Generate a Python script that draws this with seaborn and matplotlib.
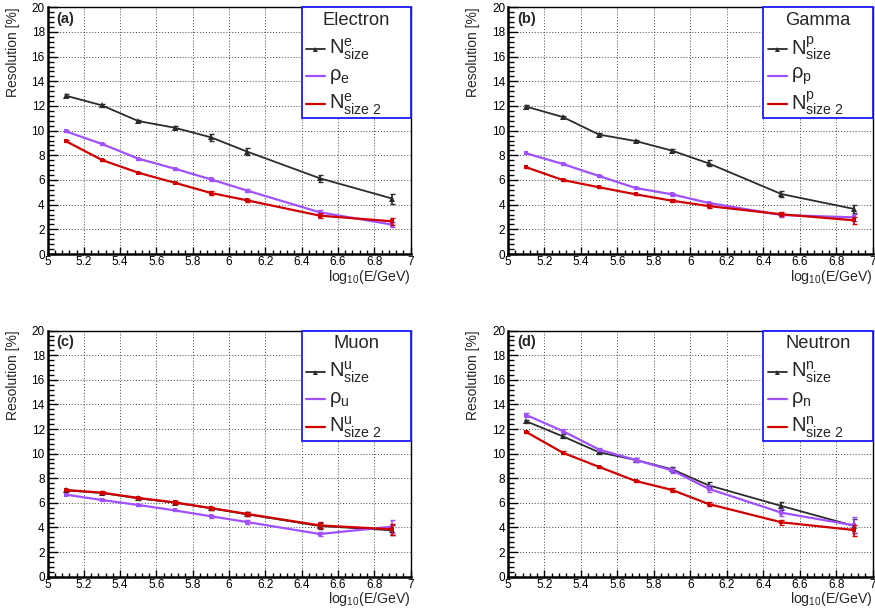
import numpy as np
import pandas as pd
import matplotlib
matplotlib.use("Agg")
import matplotlib.pyplot as plt
from matplotlib.patches import Rectangle
from matplotlib.lines import Line2D
from matplotlib.ticker import MultipleLocator
import seaborn as sns

sns.set_style("ticks")
plt.rcParams['font.family'] = ['Liberation Sans', 'DejaVu Sans']
plt.rcParams['mathtext.fontset'] = 'custom'
plt.rcParams['mathtext.rm'] = 'Liberation Sans'
plt.rcParams['mathtext.it'] = 'Liberation Sans:italic'
plt.rcParams['mathtext.bf'] = 'Liberation Sans:bold'

# ---------------- data ----------------
log_e = [5.1, 5.3, 5.5, 5.7, 5.9, 6.1, 6.5, 6.9]

panel_tags = ["(a)", "(b)", "(c)", "(d)"]
particles = ["Electron", "Gamma", "Muon", "Neutron"]
subs = ["e", "p", "u", "n"]

electron_nsize = [12.84, 12.05, 10.78, 10.24, 9.46, 8.30, 6.14, 4.49]
electron_rho = [9.95, 8.92, 7.73, 6.92, 6.05, 5.14, 3.38, 2.38]
electron_nsize2 = [9.16, 7.62, 6.59, 5.78, 4.95, 4.35, 3.11, 2.65]
electron_nsize_err = [0.10, 0.10, 0.10, 0.10, 0.30, 0.30, 0.30, 0.40]
electron_rho_err = [0.08, 0.08, 0.08, 0.08, 0.10, 0.15, 0.15, 0.20]
electron_nsize2_err = [0.08, 0.05, 0.05, 0.05, 0.15, 0.15, 0.20, 0.30]

gamma_nsize = [11.95, 11.11, 9.68, 9.16, 8.38, 7.35, 4.86, 3.65]
gamma_rho = [8.16, 7.30, 6.32, 5.35, 4.84, 4.14, 3.16, 2.97]
gamma_nsize2 = [7.03, 6.00, 5.41, 4.84, 4.32, 3.89, 3.22, 2.73]
gamma_nsize_err = [0.10, 0.10, 0.10, 0.10, 0.15, 0.25, 0.25, 0.35]
gamma_rho_err = [0.05, 0.05, 0.05, 0.05, 0.10, 0.10, 0.15, 0.30]
gamma_nsize2_err = [0.05, 0.05, 0.05, 0.05, 0.10, 0.12, 0.15, 0.30]

muon_nsize = [7.02, 6.80, 6.37, 6.02, 5.56, 5.07, 4.12, 3.77]
muon_rho = [6.67, 6.23, 5.83, 5.39, 4.91, 4.44, 3.47, 4.07]
muon_nsize2 = [7.05, 6.83, 6.40, 6.04, 5.58, 5.10, 4.17, 3.85]
muon_nsize_err = [0.10, 0.10, 0.10, 0.10, 0.12, 0.15, 0.25, 0.40]
muon_rho_err = [0.05, 0.05, 0.05, 0.05, 0.10, 0.15, 0.20, 0.50]
muon_nsize2_err = [0.10, 0.10, 0.10, 0.10, 0.12, 0.15, 0.25, 0.45]

neutron_nsize = [12.63, 11.41, 10.11, 9.49, 8.73, 7.43, 5.75, 4.12]
neutron_rho = [13.14, 11.84, 10.33, 9.49, 8.64, 7.15, 5.20, 4.17]
neutron_nsize2 = [11.76, 10.08, 8.92, 7.78, 7.05, 5.91, 4.42, 3.79]
neutron_nsize_err = [0.10, 0.15, 0.15, 0.15, 0.20, 0.25, 0.30, 0.60]
neutron_rho_err = [0.15, 0.15, 0.15, 0.15, 0.20, 0.30, 0.30, 0.65]
neutron_nsize2_err = [0.10, 0.10, 0.10, 0.10, 0.15, 0.20, 0.20, 0.45]

values = [
    (electron_nsize, electron_rho, electron_nsize2),
    (gamma_nsize, gamma_rho, gamma_nsize2),
    (muon_nsize, muon_rho, muon_nsize2),
    (neutron_nsize, neutron_rho, neutron_nsize2),
]
errors = [
    (electron_nsize_err, electron_rho_err, electron_nsize2_err),
    (gamma_nsize_err, gamma_rho_err, gamma_nsize2_err),
    (muon_nsize_err, muon_rho_err, muon_nsize2_err),
    (neutron_nsize_err, neutron_rho_err, neutron_nsize2_err),
]

series_names = ["Nsize", "rho", "Nsize2"]
colors = {"Nsize": "#2b2b2b", "rho": "#a050ff", "Nsize2": "#d00000"}
markers = {"Nsize": "^", "rho": "s", "Nsize2": "s"}
msizes = {"Nsize": 4.5, "rho": 2.5, "Nsize2": 2.5}
lwidths = {"Nsize": 1.3, "rho": 1.6, "Nsize2": 1.6}
zorders = {"Nsize": 3, "rho": 3.1, "Nsize2": 3.2}

# ---------------- layout ----------------
W, H = 875, 610
fig = plt.figure(figsize=(W / 100, H / 100), dpi=100)
fig.patch.set_facecolor("white")

positions = [
    [0.0543, 0.5836, 0.4149, 0.4044],
    [0.5806, 0.5836, 0.4166, 0.4044],
    [0.0543, 0.0546, 0.4149, 0.4034],
    [0.5806, 0.0546, 0.4166, 0.4034],
]

for i in range(4):
    ax = fig.add_axes(positions[i])
    ax.set_facecolor("white")
    rows = []
    for s, vals in zip(series_names, values[i]):
        for x, v in zip(log_e, vals):
            rows.append({"x": x, "y": v, "series": s})
    df = pd.DataFrame(rows)
    for s, errs in zip(series_names, errors[i]):
        sub = df[df.series == s]
        sns.lineplot(data=sub, x="x", y="y", color=colors[s], marker=markers[s],
                     markersize=msizes[s], markeredgewidth=0, linewidth=lwidths[s],
                     ax=ax, legend=False, zorder=zorders[s])
        ax.errorbar(sub["x"], sub["y"], yerr=errs, fmt="none", ecolor=colors[s],
                    elinewidth=1.2, capsize=1.8, capthick=1.0, zorder=zorders[s])

    ax.set_xlim(5, 7)
    ax.set_ylim(0, 20)
    ax.xaxis.set_major_locator(MultipleLocator(0.2))
    ax.xaxis.set_minor_locator(MultipleLocator(0.04))
    ax.yaxis.set_major_locator(MultipleLocator(2))
    ax.yaxis.set_minor_locator(MultipleLocator(0.4))
    ax.set_xticks(np.arange(5, 7.01, 0.2))
    ax.set_xticklabels(["5", "5.2", "5.4", "5.6", "5.8", "6", "6.2", "6.4", "6.6", "6.8", "7"])
    ax.set_yticks(np.arange(0, 20.1, 2))
    ax.set_yticklabels([str(v) for v in range(0, 21, 2)])
    ax.tick_params(axis="both", which="both", direction="in", top=False, right=False,
                   labelsize=8.5, colors="black")
    ax.tick_params(axis="x", which="major", length=5, width=1.0, pad=1.5)
    ax.tick_params(axis="x", which="minor", length=2.8, width=1.0)
    ax.tick_params(axis="y", which="major", length=7, width=1.0, pad=2)
    ax.tick_params(axis="y", which="minor", length=4, width=1.0)
    ax.grid(True, which="major", color="#444444", linestyle=(0, (1, 2)), linewidth=0.7)
    ax.set_axisbelow(True)
    for sp in ["bottom", "left"]:
        ax.spines[sp].set_linewidth(1.8)
        ax.spines[sp].set_color("black")
    for sp in ["top", "right"]:
        ax.spines[sp].set_linewidth(1.0)
        ax.spines[sp].set_color("black")
        ax.spines[sp].set_visible(True)
    ax.set_xlabel("")
    ax.set_ylabel("")

    ax.text(-0.095, 1.0, "Resolution [%]", transform=ax.transAxes, rotation=90,
            ha="center", va="top", fontsize=10)
    ax.text(1.0, -0.056, r"log$_{10}$(E/GeV)", transform=ax.transAxes,
            ha="right", va="top", fontsize=10.2)
    ax.text(0.025, 0.953, panel_tags[i], transform=ax.transAxes, ha="left",
            va="center", fontsize=10.5, fontweight="bold")

    # legend box
    ax.add_patch(Rectangle((0.70, 0.551), 0.30, 0.449, transform=ax.transAxes,
                           facecolor="white", edgecolor="#1a1aff", linewidth=1.3,
                           zorder=10, clip_on=False))
    ax.text(0.85, 0.946, particles[i], transform=ax.transAxes, ha="center",
            va="center", fontsize=13.2, zorder=11)
    sb = subs[i]
    labels = [r"$\mathregular{N^{%s}_{size}}$" % sb,
              r"$\mathregular{\rho_{%s}}$" % sb,
              r"$\mathregular{N^{%s}_{size\ 2}}$" % sb]
    ys = [0.830, 0.7215, 0.608]
    for s, lab, yy in zip(series_names, labels, ys):
        ax.add_line(Line2D([0.712, 0.764], [yy, yy], transform=ax.transAxes,
                           color=colors[s], linewidth=lwidths[s],
                           zorder=11, clip_on=False))
        ax.plot([0.738], [yy], transform=ax.transAxes, color=colors[s],
                marker=markers[s], markersize=msizes[s] * 0.8, markeredgewidth=0,
                zorder=12, clip_on=False)
        ax.text(0.776, yy, lab, transform=ax.transAxes, ha="left", va="center",
                fontsize=14.5, zorder=11)

fig.savefig("out.png", dpi=100, facecolor="white")
